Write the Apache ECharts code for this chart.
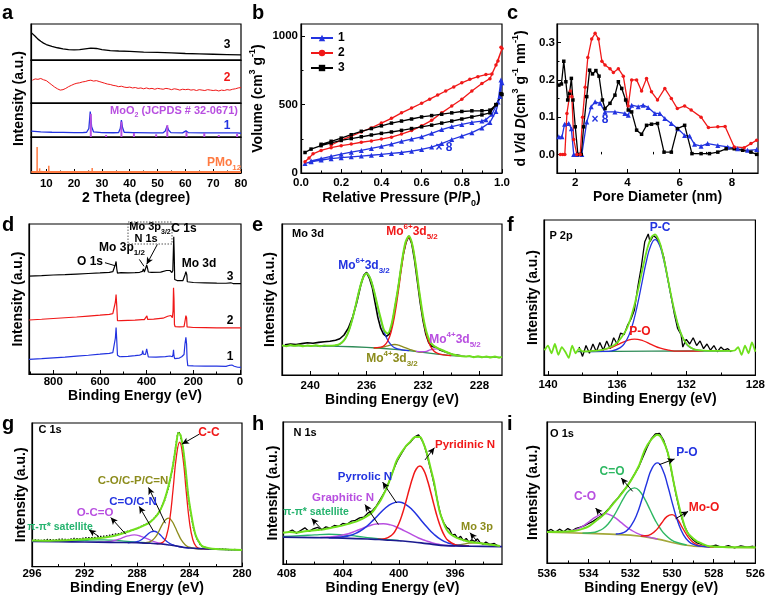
<!DOCTYPE html>
<html><head><meta charset="utf-8">
<script src="https://cdn.jsdelivr.net/npm/echarts@6/dist/echarts.min.js"></script>
<style>html,body{margin:0;padding:0;background:#fff}#c{width:768px;height:596px}</style>
</head><body><div id="c"></div>
<script>
// ================= DATA =================
// (a) XRD, intensities in % of each sub-panel height
const a_black3 = [[4.6,76],[5,74],[6,66],[7,58],[8,52],[9,47],[10,43],[12,38],[14,34],[16,31],[18,29],[20,28],[22,29],[24,31],[26,33],[28,32],[30,29],[33,26],[36,25],[40,24],[45,22],[50,21],[55,20],[60,18],[65,17],[70,16],[75,15],[80,14]];
const a_red2 = [[5,53],[6,56],[7,55],[8,57],[9,54],[10,52],[11,47],[12,42],[13,37],[14,33],[15,30],[16,31],[17,34],[18,38],[19,41],[20,44],[21,46],[22,47],[23,49],[24,50],[25,52],[26,53],[27,51],[28,52],[29,50],[30,48],[31,46],[32,44],[33,43],[34,41],[35,40],[36,38],[37,39],[38,37],[39,36],[40,37],[41,35],[42,36],[43,34],[44,35],[45,33],[46,35],[47,33],[48,34],[49,32],[50,34],[51,33],[52,32],[53,34],[54,33],[55,31],[56,33],[57,32],[58,30],[59,32],[60,31],[61,32],[62,30],[63,31],[64,29],[65,31],[66,30],[67,29],[68,31],[69,30],[70,29],[71,30],[72,28],[73,30],[74,29],[75,31],[76,30],[77,32],[78,33],[79,35],[80,36]];
const a_blue1 = [[4.6,17],[8,15],[12,14],[16,13.5],[20,13],[23,13],[24.5,14],[25.3,25],[25.8,75],[26.3,30],[27,15],[30,13],[34,12.5],[36,13],[36.6,25],[37,50],[37.4,28],[38,14],[41,13],[41.5,15],[42,13],[48,12],[52,12.5],[52.8,18],[53.4,32],[54,20],[54.8,13],[59,12],[60.2,18],[61,13],[66,12],[66.6,15],[67.3,12],[72,12],[78.5,12],[79,14],[80,11]];
const a_moo2Sticks = [[26,68],[31.5,6],[37,45],[41.5,12],[49.5,8],[53.5,35],[60.4,15],[66.8,12],[72,6],[78.6,10]];
const a_pmoBase = [[4.6,3],[80,3]];
const a_pmoSticks = [[6.7,72],[7.6,13],[8.3,6],[10.9,20],[12.2,5],[14.6,4],[16.2,3],[17.9,4],[19.6,5],[20.8,4],[22.4,4],[23.8,5],[25.4,6],[26.5,14],[27.6,5],[29.3,5],[31.1,4],[32.8,4],[35,3],[37.2,3],[39.4,3]];
// (b) isotherms (adsorption then desorption)
const b_s1 = [[0.02,70],[0.05,82],[0.1,95],[0.15,105],[0.2,112],[0.25,118],[0.3,124],[0.35,130],[0.4,136],[0.45,143],[0.5,150],[0.55,160],[0.6,172],[0.65,190],[0.7,215],[0.75,245],[0.8,270],[0.85,295],[0.9,330],[0.94,370],[0.97,450],[0.99,560],[1.0,660],[0.995,680],[0.98,520],[0.95,430],[0.92,390],[0.9,380],[0.85,370],[0.8,355],[0.75,340],[0.7,318],[0.65,290],[0.6,265],[0.55,248],[0.5,232],[0.45,212],[0.4,195],[0.35,180],[0.3,165],[0.25,152],[0.2,138],[0.15,122],[0.1,105],[0.05,88]];
const b_s2 = [[0.02,82],[0.04,110],[0.06,140],[0.1,165],[0.15,185],[0.2,200],[0.25,212],[0.3,225],[0.35,235],[0.4,248],[0.45,262],[0.5,285],[0.55,310],[0.6,345],[0.65,385],[0.7,440],[0.75,490],[0.8,540],[0.85,600],[0.9,655],[0.94,690],[0.97,790],[1.0,910],[0.995,920],[0.98,820],[0.95,725],[0.92,720],[0.88,705],[0.84,685],[0.8,660],[0.76,630],[0.72,600],[0.68,570],[0.64,540],[0.6,510],[0.55,475],[0.5,440],[0.45,400],[0.4,365],[0.35,330],[0.3,300],[0.25,270],[0.2,240],[0.15,205]];
const b_s3 = [[0.02,150],[0.05,175],[0.1,200],[0.15,220],[0.2,238],[0.25,252],[0.3,265],[0.35,278],[0.4,290],[0.45,300],[0.5,312],[0.55,325],[0.6,338],[0.65,350],[0.7,365],[0.75,380],[0.8,395],[0.85,410],[0.9,425],[0.94,440],[0.97,500],[1.0,575],[0.995,580],[0.97,500],[0.94,460],[0.9,455],[0.85,455],[0.8,450],[0.75,440],[0.7,430],[0.65,420],[0.6,410],[0.55,395],[0.5,380],[0.45,365],[0.4,345],[0.35,325],[0.3,305],[0.25,280],[0.2,255],[0.15,232],[0.1,210]];
// (c) pore size distributions
const c_s2 = [[1.43,0],[1.52,0],[1.6,0],[1.68,0.11],[1.81,0.17],[1.87,0.155],[1.94,0.04],[2.06,0],[2.19,0],[2.28,0.10],[2.38,0.18],[2.48,0.26],[2.63,0.31],[2.76,0.325],[2.89,0.31],[3.02,0.25],[3.14,0.24],[3.33,0.23],[3.46,0.22],[3.65,0.23],[3.84,0.21],[4.03,0.13],[4.16,0.2],[4.35,0.2],[4.54,0.17],[4.73,0.204],[4.92,0.168],[5.15,0.146],[5.43,0.177],[5.68,0.15],[5.91,0.123],[6.19,0.13],[6.44,0.119],[6.82,0.10],[7.1,0.072],[7.46,0.074],[7.74,0.075],[8.09,0.02],[8.47,0.018],[8.73,0.029],[8.95,0.038]];
const c_s1 = [[1.37,0.047],[1.49,0.047],[1.59,0.081],[1.75,0.083],[1.85,0.069],[1.94,0],[2.06,0],[2.25,0],[2.44,0.087],[2.61,0.128],[2.76,0.141],[2.95,0.137],[3.14,0.114],[3.52,0.114],[3.9,0.11],[4.03,0.105],[4.16,0.132],[4.41,0.128],[4.6,0.132],[4.79,0.126],[5.05,0.11],[5.24,0.11],[5.43,0.096],[5.68,0.083],[5.93,0.069],[6.19,0.051],[6.38,0.049],[6.57,0.027],[6.82,0.022],[7.07,0.029],[7.46,0.024],[7.84,0.02],[8.22,0.015],[8.6,0.011],[8.95,0.013]];
const c_s3 = [[1.37,0.186],[1.47,0.189],[1.56,0.25],[1.64,0.195],[1.71,0.146],[1.78,0.164],[1.85,0.204],[1.91,0.146],[2.0,0.074],[2.1,0],[2.23,0],[2.32,0.074],[2.44,0.155],[2.55,0.226],[2.66,0.216],[2.79,0.225],[2.91,0.21],[3.04,0.146],[3.14,0.123],[3.33,0.137],[3.52,0.159],[3.65,0.195],[3.78,0.177],[3.93,0.146],[4.03,0.119],[4.16,0.114],[4.35,0.065],[4.54,0.054],[4.73,0.078],[4.92,0.081],[5.15,0.083],[5.4,0.006],[5.68,0.006],[5.91,0.069],[6.19,0.078],[6.47,0.002],[6.82,0.002],[7.14,0.002],[7.46,0.006],[7.78,0.015],[8.09,0.015],[8.41,0.011],[8.73,0.006],[8.95,0.0]];
// (d) survey spectra (% of panel height)
const d_s3 = [[904,65.3],[850,65.6],[800,66],[750,66.2],[700,66.6],[650,67],[600,67.4],[560,67.8],[545,68.2],[537,69],[534,73],[531,75],[528,70],[525,67.3],[510,67.6],[480,67.4],[450,67.6],[430,67.8],[418,68.4],[414,70],[410,68],[404,68.5],[400,72.5],[397,71],[393,68],[380,67.7],[340,67.9],[315,69],[300,69],[292,67.6],[288,69],[286,80],[284,91.5],[282,80],[280,63],[270,62.3],[245,62.2],[236,66],[232,68.2],[228,66],[226,61.5],[200,61],[150,60.8],[100,60.6],[60,60.5],[40,60.8],[30,60.3],[-4,60.2]];
const d_s2 = [[904,36],[850,36.5],[800,37],[750,37.5],[700,38],[650,38.6],[600,39.2],[560,39.8],[545,40.3],[538,41.5],[534,48],[531,53],[528,45],[525,35.5],[510,35.6],[480,35.8],[450,35.9],[420,36.2],[414,37],[410,36.2],[402,36.5],[399,38.8],[396,36.4],[370,36.6],[330,37.2],[310,38.5],[296,39],[290,37.5],[287,42],[285,57.5],[283,50],[281,33],[278,31.5],[260,31.4],[240,31.6],[235,36],[232,38.9],[229,37.5],[227,31.4],[200,31],[150,30.9],[100,30.8],[50,30.8],[-4,30.7]];
const d_s1 = [[904,9.8],[850,10.2],[800,10.8],[750,11.3],[700,11.9],[650,12.5],[600,13.2],[560,13.8],[545,14.2],[538,15],[534,24],[531,31],[528,22],[525,12.5],[515,11.5],[510,12.8],[506,11.6],[480,11.8],[450,12.2],[430,12.6],[420,13.2],[417,15.6],[414,13.2],[405,13],[400,16.8],[397,14.5],[393,11.4],[360,11.2],[320,11.6],[300,12],[290,11.5],[287,13],[285,16.2],[283,12],[280,10.2],[260,10.6],[250,11.5],[245,11],[240,13],[236,20],[232,24.5],[229,20],[227,10],[224,5.6],[200,5.4],[150,5.2],[100,5.2],[60,5.1],[45,5.8],[40,7],[35,6],[25,5.2],[10,4.5],[-4,4.4]];
// (e) Mo 3d
const e_exp = [[241.8,20],[241.4,20.5],[241,20.2],[240.6,20.8],[240.2,21.4],[239.8,21],[239.4,21.6],[239,22],[238.6,22.3],[238.2,23],[237.9,24],[237.6,26.5],[237.3,31],[237,38],[236.7,48],[236.4,60],[236.2,66],[236,68],[235.8,64],[235.6,58],[235.4,48],[235.2,38],[235,31],[234.8,27],[234.6,25.5],[234.4,27],[234.2,33],[234,44],[233.8,55],[233.6,68],[233.4,80],[233.2,88],[233,92],[232.8,87],[232.6,76],[232.4,62],[232.2,48],[232,36],[231.8,27],[231.6,21.5],[231.4,19],[231.2,18.5],[231,18],[230.8,16.5],[230.5,15.5],[230.2,14.5],[229.9,13.5],[229.6,13.2],[229.3,12.8]];
const e_bg = [[242,19.5],[240,19.3],[238,19.0],[237,18.7],[236,18.3],[235,17.7],[234,17.0],[233,16.2],[232,15.0],[231,13.8],[230,12.8],[229,12.3],[228,12.0],[226.4,11.7]];
const e_mo6_32 = [[239.5,19.2],[238.5,19.0],[238,20.0],[237.75,21.5],[237.5,24.4],[237.25,29.6],[237,37.4],[236.75,47.1],[236.5,57],[236.25,64.4],[236,67.3],[235.75,64.2],[235.5,56.5],[235.25,46.4],[235,36.4],[234.75,28.4],[234.5,23],[234.25,19.8],[234,18],[233.5,16.7],[233,16.2]];
const e_mo6_52 = [[235.5,18.0],[235,18.4],[234.75,19.5],[234.5,22.5],[234.25,29],[234,40],[233.75,55.3],[233.5,72.4],[233.25,86.1],[233,91.2],[232.75,85.6],[232.5,71.4],[232.25,53.8],[232,38],[231.75,26.5],[231.5,19.6],[231.25,16.1],[231,14.5],[230.5,13.3],[230,12.8]];
const e_mo4_32 = [[235.5,17.8],[235,18.2],[234.5,19.3],[234.25,19.9],[234,20.2],[233.75,19.8],[233.5,18.9],[233,17.2],[232.5,15.7],[232,15.0]];
const e_mo4_52 = [[232.5,15.6],[232,15.4],[231.75,15.7],[231.5,16.6],[231.25,17.1],[231,17.3],[230.75,16.9],[230.5,15.9],[230.25,14.6],[230,13.7],[229.5,12.6],[229,12.3]];
const e_env = [[242,19.6],[241.7,19.1],[241.4,19.8],[241.1,19.3],[240.8,19.7],[240.5,19.0],[240.2,19.6],[239.9,19.2],[239.6,19.7],[239.3,19.1],[239,19.5],[238.7,19.3],[238.5,19.4],[238.25,19.6],[238,20.1],[237.75,21.5],[237.5,24.4],[237.25,29.6],[237,37.4],[236.75,47.1],[236.5,57],[236.25,64.4],[236,67.3],[235.75,64.2],[235.5,56.6],[235.25,46.9],[235,37.6],[234.75,29.5],[234.5,27.5],[234.25,33],[234,45],[233.75,58.8],[233.5,74.9],[233.25,87.7],[233,92.1],[232.75,86],[232.5,71.9],[232.25,54.4],[232,39.1],[231.75,28.3],[231.5,22.2],[231.25,19.3],[231,18],[230.75,16.9],[230.5,15.9],[230,13.9],[229.5,12.8],[229,12.3],[228.7,12.6],[228.4,11.8],[228.1,12.4],[227.8,11.7],[227.5,12.3],[227.2,11.6],[226.9,12.2],[226.6,11.5],[226.4,12.0]];
// (f) P 2p
const f_exp = [[138.2,18],[138.0,12],[137.8,19],[137.6,14],[137.4,20],[137.2,15],[137.0,21],[136.8,16],[136.6,22],[136.4,17],[136.2,24],[136.0,20],[135.8,27],[135.6,26],[135.4,32],[135.2,36],[135.0,42],[134.8,57],[134.6,70],[134.4,86],[134.2,91],[134.1,86],[134.0,88],[133.9,90],[133.7,88],[133.5,84],[133.3,76],[133.1,64],[132.9,52],[132.7,40],[132.5,30],[132.3,26],[132.2,18],[132.0,23],[131.8,20],[131.6,24],[131.4,19],[131.2,22],[131.0,17],[130.8,20],[130.6,16],[130.4,19],[130.2,15],[130.0,18],[129.8,16],[129.6,17],[129.4,15]];
const f_bg = [[138.3,15.1],[136,15.2],[134,15.35],[132,15.5],[130,15.6],[129.3,15.7]];
const f_pc = [[137.5,15.1],[136.8,15.2],[136.3,15.6],[135.8,17.8],[135.55,20.8],[135.3,26.2],[135.05,34.8],[134.8,46.5],[134.55,60.3],[134.3,73.7],[134.05,83.6],[133.8,87.4],[133.55,83.8],[133.3,73.9],[133.05,60.5],[132.8,46.8],[132.55,35.1],[132.3,26.5],[132.05,21],[131.8,18],[131.3,15.9],[130.8,15.6],[129.4,15.7]];
const f_po = [[137.5,15.3],[137,15.8],[136.5,17.1],[136,19.4],[135.5,21.9],[135,23.2],[134.5,22.1],[134,19.6],[133.5,17.3],[133,16],[132.5,15.4],[132,15.4],[131,15.6]];
const f_env = [[140.2,16],[140.0,19],[139.8,14],[139.6,20],[139.4,13],[139.2,18],[139.0,15],[138.8,11],[138.6,19],[138.4,14],[138.2,17],[138.0,15.2],[137.5,15.5],[137,15.9],[136.5,17.4],[136,20.8],[135.5,28.6],[135.25,35.5],[135,45],[134.75,56.9],[134.5,70],[134.25,81.8],[134,89.2],[133.8,90.7],[133.5,84.2],[133.25,72.6],[133,58.3],[132.75,44.6],[132.5,33.3],[132.25,25.2],[132,20.3],[131.75,17.7],[131.5,16.4],[131,15.7],[130.5,15.6],[130,15.6],[129.5,15.6],[129.2,15.8],[129.0,18],[128.8,13],[128.6,19],[128.4,14],[128.2,21],[128.0,15]];
// (g) C 1s
const g_exp = [[295.8,18.6],[295.3,18.2],[294.8,18.9],[294.3,18.4],[293.8,19.2],[293.3,18.8],[292.8,19.6],[292.3,19.3],[291.8,20.2],[291.3,20.1],[290.8,21.0],[290.3,21.4],[289.8,22.4],[289.3,23],[288.8,24.4],[288.3,25.6],[287.8,27.5],[287.3,29.6],[286.8,32.5],[286.3,38],[285.9,46],[285.6,55],[285.3,68],[285.1,80],[284.95,90],[284.85,94],[284.7,92],[284.5,82],[284.3,66],[284.1,49],[283.9,37],[283.7,27],[283.5,20.5],[283.2,15.5],[283,13.8],[282.5,12.6],[282,12.1],[281.5,12.3],[281,11.7],[280.5,11.9]];
const g_bg = [[296,17.5],[294,17.3],[292,17.1],[290,16.9],[288,16.6],[287,16.3],[286,15.6],[285.5,15],[285,14.3],[284.5,13.5],[284,12.9],[283,12.4],[282,12.1],[280,11.6]];
const g_cc = [[286.5,15.8],[286,17.1],[285.75,21.5],[285.5,33.1],[285.25,53.9],[285,76.6],[284.75,86.6],[284.5,75.8],[284.25,52.4],[284,31],[283.75,18.9],[283.5,14.1],[283.25,12.7],[283,12.4],[282.5,12.2]];
const g_co = [[287.6,16.4],[287.1,17.0],[286.85,18.2],[286.6,20.5],[286.35,24.3],[286.1,28.9],[285.85,32.4],[285.6,33.7],[285.35,31.8],[285.1,27.6],[284.85,22.6],[284.6,18.2],[284.35,15.4],[284.1,13.8],[283.6,12.6],[283,12.4]];
const g_cn = [[288.7,16.6],[288.2,17],[287.95,17.5],[287.7,18.5],[287.45,20.3],[287.2,22.4],[286.95,24.1],[286.7,24.6],[286.45,23.8],[286.2,21.8],[285.95,19.4],[285.7,17.3],[285.45,15.9],[285.2,15],[284.7,13.8],[284,12.9]];
const g_oco = [[291,16.9],[290.7,17],[290.2,17.35],[289.7,18.2],[289.2,19.7],[288.7,21.35],[288.2,22.1],[287.7,21.1],[287.2,19.3],[286.7,17.4],[286.2,16.2],[285.7,15.3]];
const g_sat = [[295.5,17.5],[294,17.6],[293,17.9],[292,18.3],[291,18.6],[290.5,18.6],[290,18.4],[289,17.8],[288,17.1],[287,16.5]];
const g_env = [[296,18.1],[295,18.0],[294,18.2],[293,18.5],[292,19.0],[291,19.8],[290,21],[289.5,22],[289,23.3],[288.5,25],[288,26.5],[287.5,28.5],[287,31],[286.5,35.5],[286.25,39],[286,44],[285.75,51],[285.5,60],[285.25,71],[285,86],[284.85,93],[284.7,92],[284.5,83],[284.3,68],[284.1,50],[283.9,38],[283.7,28],[283.5,21],[283.2,16],[283,14],[282.5,12.8],[282,12.3],[281,11.9],[280,11.6]];
// (h) N 1s
const h_exp = [[407.9,22.5],[407.6,24],[407.3,21.8],[407,23.6],[406.7,25.5],[406.4,23],[406.1,24.8],[405.8,25.8],[405.5,24.2],[405.2,26.2],[404.9,25.4],[404.6,27.2],[404.3,26.5],[404,28.6],[403.7,28],[403.4,30.2],[403.1,30.8],[402.8,32.5],[402.5,33],[402.2,36],[401.9,37.5],[401.6,41],[401.3,46],[401.0,51],[400.7,58],[400.4,66],[400.1,73],[399.8,78],[399.5,83],[399.2,85.5],[399.0,88],[398.8,90],[398.6,91],[398.4,88],[398.2,84],[398.0,77],[397.8,69],[397.6,61],[397.4,52],[397.2,42],[397.0,34],[396.8,29],[396.6,26],[396.4,24.5],[396.2,20.5],[396.0,21],[395.8,18],[395.6,19.5],[395.4,16.5],[395.2,18],[395.0,15.5],[394.8,17.2],[394.6,15.8],[394.4,17.8],[394.2,15],[394.0,14],[393.8,15.5],[393.5,13.8],[393.2,14.5],[392.9,12.6]];
const h_bg = [[408.26,19],[406,18.6],[404,18.3],[402,17.6],[401,17],[400,16.4],[399,15.6],[398,14.4],[397,13.2],[396,12.8],[394,12.5],[392.65,12.3]];
const h_pyridinic = [[401.5,17.4],[401,17.9],[400.5,20.5],[400.25,23.6],[400,28.6],[399.75,35.4],[399.5,43.9],[399.25,53],[399,61.3],[398.75,67.1],[398.5,69],[398.25,66.5],[398,60.1],[397.75,51.3],[397.5,41.7],[397.25,32.7],[397,25.4],[396.75,20.1],[396.5,16.7],[396,13.7],[395.5,12.8],[395,12.7]];
const h_pyrrolic = [[405,18.6],[404.5,18.8],[404,19.2],[403.5,20.1],[403,22],[402.5,25],[402,29.3],[401.5,34.2],[401,39.1],[400.5,42.6],[400,43.7],[399.5,41.9],[399,37.7],[398.5,31.9],[398,26.1],[397.5,21],[397,17.2],[396.5,14.9],[396,13.7],[395.5,13.1],[395,12.7]];
const h_graphitic = [[405.6,18.7],[405.1,19],[404.6,19.4],[404.1,20.3],[403.6,21.4],[403.1,23.2],[402.6,25.1],[402.1,27],[401.6,28.2],[401.1,28.4],[400.6,27.6],[400.1,25.8],[399.6,23.4],[399.1,20.9],[398.6,18.4],[398.1,16.5],[397.6,14.9],[397.1,13.8],[396.6,13.1],[396,12.8]];
const h_sat = [[408.26,19.5],[407,20],[406,20.6],[405,21],[404,20.6],[403,19.6],[402,18.4],[401,17.4],[400,16.6]];
const h_mo3p = [[396,13.2],[395.5,13.9],[395,14.7],[394.5,15],[394,14.6],[393.5,13.6],[393,12.8]];
const h_env = [[408.26,22],[407.8,22.6],[407.3,22.2],[406.8,23],[406.3,23.4],[405.8,24],[405.3,24.6],[404.8,25.6],[404.3,26.6],[403.8,27.8],[403.3,29.2],[402.8,31],[402.3,33.6],[401.9,36.5],[401.6,40.5],[401.3,45],[401.1,48.8],[400.85,54],[400.6,60.5],[400.4,66],[400.2,72],[399.95,76.5],[399.7,80.2],[399.45,83.5],[399.2,86],[398.85,89.5],[398.5,89.5],[398.25,85],[398,78],[397.75,68],[397.5,58],[397.3,47],[397.1,37.2],[396.85,30],[396.6,24.4],[396.3,21],[395.9,18.6],[395.5,17.2],[395.2,16.3],[394.6,15.2],[394,14.4],[393.4,13.6],[392.8,12.8]];
// (i) O 1s
const i_exp = [[536,22.5],[535.8,23.8],[535.6,21.8],[535.4,24],[535.2,22.2],[535,24.4],[534.8,22.8],[534.6,24.6],[534.4,25.4],[534.2,26.5],[534,28],[533.8,29.5],[533.6,31.5],[533.4,33.5],[533.2,36],[533,39],[532.8,43],[532.6,46],[532.4,50],[532.2,53.5],[532,58],[531.8,63],[531.6,68],[531.4,75],[531.2,82],[531,88],[530.8,91.5],[530.6,92],[530.4,87],[530.2,78],[530,63],[529.8,48],[529.6,35],[529.4,26],[529.2,20],[529,16.5],[528.8,14.2],[528.5,12.8],[528.2,11.5],[527.9,12.6],[527.6,11],[527.3,12.4],[527,10.8],[526.7,12.2],[526.4,11.2],[526.1,12]];
const i_bg = [[536,21.8],[535,21.5],[534,21],[533,20.5],[532,19.8],[531.5,19],[531,17.8],[530.5,16.4],[530,14.6],[529.5,13],[529,12],[528,11.3],[527,11],[526,10.9]];
const i_po = [[532.7,20.6],[532.45,21],[532.2,22.6],[531.95,26.8],[531.7,34],[531.45,44.9],[531.2,57.3],[530.95,67.5],[530.7,71],[530.45,66.1],[530.2,54.4],[529.95,40.5],[529.7,28.3],[529.45,20],[529.2,15.3],[528.95,13],[528.7,12],[528.2,11.4]];
const i_moo = [[531.5,19.2],[531.25,19.3],[531,20.5],[530.75,23.5],[530.5,28.4],[530.25,32.9],[530,34.3],[529.75,31.2],[529.5,25],[529.25,18.9],[529,14.7],[528.75,12.7],[528.5,11.8],[528,11.3]];
const i_ceo = [[534.3,21.2],[533.8,21.6],[533.55,22.6],[533.3,24.5],[533.05,28],[532.8,33.2],[532.55,39.8],[532.3,46.6],[532.05,51.6],[531.8,53.3],[531.55,50.9],[531.3,45.1],[531.05,37.6],[530.8,30.1],[530.55,24.1],[530.3,19.6],[530.05,16.6],[529.8,14.7],[529.3,12.8]];
const i_co = [[535.2,22],[534.95,22.4],[534.7,23.2],[534.45,24.8],[534.2,26.9],[533.95,29.6],[533.7,32.3],[533.45,34.3],[533.2,35],[532.95,34],[532.7,31.8],[532.45,28.8],[532.2,25.8],[531.95,23.3],[531.7,21.2],[531.45,19.8],[531.2,18.7],[530.7,17]];
const i_env = [[536,22],[535.5,22.1],[535,22.4],[534.65,22.8],[534.3,24.2],[534,26],[533.6,30.5],[533.2,35.5],[532.8,42.5],[532.4,49.6],[532.0,57.9],[531.6,68.6],[531.3,80.4],[531.0,87.5],[530.7,91],[530.5,88.7],[530.2,78],[529.9,55.6],[529.6,36.6],[529.3,22.5],[529.0,17.5],[528.8,15.4],[528.2,11.8],[527,11.2],[526,11.1]];
// tick values
const ticksA = [10,20,30,40,50,60,70,80], minorA = [15,25,35,45,55,65,75];
const ticksBx = [0,0.2,0.4,0.6,0.8,1.0], minorBx = [0.1,0.3,0.5,0.7,0.9];
const ticksBy = [0,500,1000], minorBy = [250,750];
const ticksCx = [2,4,6,8], minorCx = [3,5,7];
const ticksCy = [0,0.1,0.2,0.3], minorCy = [0.05,0.15,0.25];
const ticksD = [0,200,400,600,800], minorD = [100,300,500,700,900];
const ticksE = [228,232,236,240], minorE = [230,234,238];
const ticksF = [128,132,136,140], minorF = [130,134,138];
const ticksG = [280,284,288,292,296], minorG = [282,286,290,294];
const ticksH = [396,400,404,408], minorH = [394,398,402,406];
const ticksI = [526,528,530,532,534,536], minorI = [527,529,531,533,535];

// ================= STYLE / LAYOUT =================
const FONT = '"Liberation Sans", Arial, Helvetica, sans-serif';
const C = {blue:'#2233e0', red:'#f01818', black:'#000', lime:'#6fe01c', dkgreen:'#2e8b57', olive:'#8c8c1c',
  magenta:'#b84fe0', navy:'#1b1b8f', teal:'#25b36e', orange:'#ff7b42', ceo:'#2fb863', ibg:'#a3a83a'};
const BOX = {a3:[31,24,241,60], a2:[31,60,241,103], a1:[31,103,241,137], a4:[31,137,241,173],
  b:[301,24,502,173], c:[557,24,758,173], d:[29,224,241,374], e:[282,224,502,375], f:[544,220,757,375],
  g:[32,423,242,567], h:[283,422,502,565], i:[547,422,757,563]};

function RICH(size, color){
  const sm = Math.round(size*0.65);
  const base = {fontFamily:FONT, fontWeight:'bold', fill:color, color:color};
  return {
    m:Object.assign({}, base, {fontSize:size, lineHeight:size+6, verticalAlign:'middle'}),
    i:Object.assign({}, base, {fontSize:size, fontStyle:'italic', lineHeight:size+6, verticalAlign:'middle'}),
    sup:Object.assign({}, base, {fontSize:sm, lineHeight:sm+2, verticalAlign:'top'}),
    sub:Object.assign({}, base, {fontSize:sm, lineHeight:sm+2, verticalAlign:'bottom'})
  };
}
const grids=[], xAxes=[], yAxes=[], series=[], graphics=[];
function axisDef(gi, a, dim){
  const o = {gridIndex:gi, type:'value', min:a.min, max:a.max, inverse:!!a.inverse, position:dim==='x'?'bottom':'left',
    axisLine:{show:true, onZero:false, lineStyle:{color:'#000', width:1.2}},
    axisTick:{show:!!a.ticks, inside:true, length:4, lineStyle:{color:'#000', width:1}},
    axisLabel:{show:!!a.ticks, margin:(a.margin!=null?a.margin:4), color:'#000', fontFamily:FONT, fontWeight:'bold', fontSize:11.5,
      formatter:a.fmt||(v=>String(Math.round(v)))},
    splitLine:{show:false}, minorTick:{show:false}, minorSplitLine:{show:false}};
  if (a.ticks){ o.axisTick.customValues=a.ticks; o.axisLabel.customValues=a.ticks; }
  if (a.name){ o.name=a.name; o.nameLocation='middle'; o.nameGap=a.gap;
    o.nameTextStyle={color:'#000', fontFamily:FONT, fontWeight:'bold', fontSize:14, rich:RICH(14,'#000')}; }
  return o;
}
function minorDef(gi, a, dim){
  return {gridIndex:gi, type:'value', min:a.min, max:a.max, inverse:!!a.inverse, position:dim==='x'?'bottom':'left',
    axisLine:{show:false}, axisLabel:{show:false}, splitLine:{show:false},
    axisTick:{show:true, inside:true, length:2.5, customValues:a.minor, lineStyle:{color:'#000', width:1}}};
}
function panel(box, xa, ya){
  const gi = grids.length;
  grids.push({left:box[0], top:box[1], width:box[2]-box[0], height:box[3]-box[1], show:true, borderColor:'#000', borderWidth:1.2, containLabel:false});
  const x = xAxes.length; xAxes.push(axisDef(gi, xa, 'x')); if (xa.minor) xAxes.push(minorDef(gi, xa, 'x'));
  const y = yAxes.length; yAxes.push(axisDef(gi, ya, 'y')); if (ya.minor) yAxes.push(minorDef(gi, ya, 'y'));
  return {x, y};
}
function ln(p, data, color, w, extra){
  const s = {type:'line', xAxisIndex:p.x, yAxisIndex:p.y, data:data, symbol:'none', showSymbol:false,
    lineStyle:{color:color, width:w||1.3}, itemStyle:{color:color}, silent:true, z:2};
  series.push(Object.assign(s, extra||{}));
  return series[series.length-1];
}
function sticks(p, data, color, w){
  series.push({type:'bar', xAxisIndex:p.x, yAxisIndex:p.y, data:data, barWidth:w, itemStyle:{color:color}, silent:true, z:3});
}
function T(x, y, text, color, size, align, rot){
  graphics.push({type:'text', x:x, y:y, rotation:rot||0, z:100, silent:true,
    style:{text:text, fill:color, fontSize:size, fontFamily:FONT, fontWeight:'bold',
      textAlign:align||'center', align:align||'center', textVerticalAlign:'middle', verticalAlign:'middle', rich:RICH(size, color)}});
}
function arrows(list){
  return {silent:true, animation:false, symbolSize:[5,7], lineStyle:{color:'#000', width:1, type:'solid'}, label:{show:false},
    data:list.map(l => [{coord:l[0], symbol:'none'}, {coord:l[1], symbol:l[2]==='none'?'none':'arrow'}])};
}
const f1 = v => v.toFixed(1);
const XPS_Y = {min:0, max:100};

// ---- panel a
const xa = {min:4.5, max:80};
const pa3 = panel(BOX.a3, xa, XPS_Y);
const pa2 = panel(BOX.a2, xa, XPS_Y);
const pa1 = panel(BOX.a1, xa, XPS_Y);
const pa4 = panel(BOX.a4, {min:4.5, max:80, ticks:ticksA, minor:minorA, margin:5, name:'2 Theta (degree)', gap:16}, XPS_Y);
ln(pa3, a_black3, C.black, 1.3);
ln(pa2, a_red2, C.red, 1);
ln(pa1, a_blue1, C.blue, 1.3);
sticks(pa1, a_moo2Sticks, C.magenta, 2);
ln(pa4, a_pmoBase, C.orange, 2);
sticks(pa4, a_pmoSticks, C.orange, 1.5);

// ---- panel b
const pb = panel(BOX.b,
  {min:0, max:1, ticks:ticksBx, minor:minorBx, fmt:f1, margin:4, name:'{m|Relative Pressure (P/P}{sub|0}{m|)}', gap:15},
  {min:0, max:1090, ticks:ticksBy, minor:minorBy, margin:3, name:'{m|Volume (cm}{sup|3}{m| g}{sup|-1}{m|)}', gap:33});
ln(pb, b_s1, C.blue, 1.3, {name:'1', symbol:'triangle', showSymbol:true, symbolSize:5});
ln(pb, b_s2, C.red, 1.3, {name:'2', symbol:'circle', showSymbol:true, symbolSize:3.5});
ln(pb, b_s3, C.black, 1.3, {name:'3', symbol:'rect', showSymbol:true, symbolSize:3.5});

// ---- panel c
const pc = panel(BOX.c,
  {min:1.3, max:9, ticks:ticksCx, minor:minorCx, margin:4, name:'Pore Diameter (nm)', gap:15},
  {min:-0.05, max:0.35, ticks:ticksCy, minor:minorCy, fmt:f1, margin:2,
   name:'{m|d }{i|V}{m|/d }{i|D}{m|(cm}{sup|3}{m| g}{sup|-1}{m| nm}{sup|-1}{m|)}', gap:26});
ln(pc, c_s1, C.blue, 1.3, {symbol:'triangle', showSymbol:true, symbolSize:5});
ln(pc, c_s3, C.black, 1.3, {symbol:'rect', showSymbol:true, symbolSize:3.5});
ln(pc, c_s2, C.red, 1.3, {symbol:'circle', showSymbol:true, symbolSize:3.5});

// ---- panel d
const pd = panel(BOX.d, {min:-4, max:904, inverse:true, ticks:ticksD, minor:minorD, margin:2, name:'Binding Energy (eV)', gap:14},
  {min:0, max:100, name:'Intensity (a.u.)', gap:3.5});
ln(pd, d_s1, C.blue, 1.2);
ln(pd, d_s2, C.red, 1.2);
ln(pd, d_s3, C.black, 1.2, {markLine:arrows([[[578.6,74.2],[535.7,72.2],'none'],[[431.4,76.4],[411.4,71.8],'none'],[[354.3,86.4],[400,73.1],'end']])});

// ---- panel e
const pe = panel(BOX.e, {min:226.4, max:242, inverse:true, ticks:ticksE, minor:minorE, margin:5, name:'Binding Energy (eV)', gap:15},
  {min:0, max:100, name:'Intensity (a.u.)', gap:4.5});
ln(pe, e_exp, C.black, 1.6);
ln(pe, e_bg, C.dkgreen, 1.3);
ln(pe, e_mo4_32, C.olive, 1.3, {smooth:true});
ln(pe, e_mo4_52, C.magenta, 1.3, {smooth:true});
ln(pe, e_mo6_32, C.blue, 1.3, {smooth:true});
ln(pe, e_mo6_52, C.red, 1.3, {smooth:true});
ln(pe, e_env, C.lime, 2, {smooth:0.3});

// ---- panel f
const pf = panel(BOX.f, {min:128, max:140.23, inverse:true, ticks:ticksF, minor:minorF, margin:4, name:'Binding Energy (eV)', gap:14},
  {min:0, max:100, name:'Intensity (a.u.)', gap:3.5});
ln(pf, f_exp, C.black, 1.3);
ln(pf, f_bg, C.dkgreen, 1.3);
ln(pf, f_po, C.red, 1.3, {smooth:true});
ln(pf, f_pc, C.blue, 1.3, {smooth:true});
ln(pf, f_env, C.lime, 1.8, {smooth:0.2});

// ---- panel g
const pg = panel(BOX.g, {min:280, max:296, inverse:true, ticks:ticksG, minor:minorG, margin:1.5, name:'Binding Energy (eV)', gap:12},
  {min:0, max:100, name:'Intensity (a.u.)', gap:4});
ln(pg, g_exp, C.black, 1.4, {lineStyle:{color:C.black, width:1.4, type:[1.5,1.5]}});
ln(pg, g_sat, C.teal, 1.3, {smooth:true});
ln(pg, g_oco, C.magenta, 1.3, {smooth:true});
ln(pg, g_cn, C.blue, 1.3, {smooth:true});
ln(pg, g_co, C.olive, 1.3, {smooth:true});
ln(pg, g_cc, C.red, 1.3, {smooth:true});
ln(pg, g_bg, C.navy, 1.6, {smooth:true, markLine:arrows([
  [[283.24,92.3],[284.57,85.3],'end'],
  [[285.84,30.2],[287.12,55.1],'end'],
  [[286.76,24.9],[287.83,41.9],'end'],
  [[288.86,22.6],[290.0,34.2],'end'],
  [[290.9,20.9],[291.66,25.6],'end']])});
ln(pg, g_env, C.lime, 2, {smooth:0.3});

// ---- panel h
const ph = panel(BOX.h, {min:392.65, max:408.26, inverse:true, ticks:ticksH, minor:minorH, margin:4, name:'Binding Energy (eV)', gap:12.5},
  {min:0, max:100, name:'Intensity (a.u.)', gap:3});
ln(ph, h_exp, C.black, 1.3);
ln(ph, h_sat, C.teal, 1.3, {smooth:true});
ln(ph, h_mo3p, C.olive, 1.3, {smooth:true});
ln(ph, h_graphitic, C.magenta, 1.5, {smooth:true});
ln(ph, h_pyrrolic, C.blue, 1.5, {smooth:true});
ln(ph, h_pyridinic, C.red, 1.5, {smooth:true});
ln(ph, h_bg, C.navy, 1.6, {smooth:true, markLine:arrows([
  [[398.14,73.3],[397.47,81.9],'end'],
  [[400.16,43.0],[401.16,57.7],'end'],
  [[401.46,27.9],[402.42,41.9],'end'],
  [[405.5,24.4],[406.22,32.1],'end'],
  [[394.41,15.8],[394.93,22.1],'end']])});
ln(ph, h_env, C.lime, 2, {smooth:0.3});

// ---- panel i
const pi = panel(BOX.i, {min:526, max:536, inverse:true, ticks:ticksI, minor:minorI, margin:5, name:'Binding Energy (eV)', gap:17},
  {min:0, max:100, name:'Intensity (a.u.)', gap:7});
ln(pi, i_exp, C.black, 1.3);
ln(pi, i_bg, C.ibg, 1.6);
ln(pi, i_co, C.magenta, 1.4, {smooth:true});
ln(pi, i_ceo, C.ceo, 1.4, {smooth:true});
ln(pi, i_moo, C.red, 1.4, {smooth:true});
ln(pi, i_po, C.blue, 1.4, {smooth:true, markLine:arrows([
  [[530.62,69.7],[529.88,73.8],'end'],
  [[531.89,50.8],[532.44,60.3],'end'],
  [[533.36,33.8],[533.67,39],'end'],
  [[529.83,31.4],[529.23,36.6],'end']])});
ln(pi, i_env, C.lime, 2, {smooth:0.3});

// ---- annotations
['a','d','g'].forEach((l,k)=>T(2, [13,225,424][k], l, '#000', 20, 'left'));
['b','e','h'].forEach((l,k)=>T(252, [13,225,424][k], l, '#000', 20, 'left'));
['c','f','i'].forEach((l,k)=>T(507, [13,225,424][k], l, '#000', 20, 'left'));
T(19, 98.5, 'Intensity (a.u.)', '#000', 14, 'center', Math.PI/2);
T(227, 45, '3', C.black, 12); T(227, 78, '2', C.red, 12); T(227, 126, '1', C.blue, 12);
T(174, 110.5, '{m|MoO}{sub|2}{m| (JCPDS # 32-0671)}', C.magenta, 11);
T(224, 163, '{m|PMo}{sub|12}', C.orange, 12);
T(444, 148, '× 8', C.blue, 12);
T(600, 120, '× 8', C.blue, 12);
// d
T(90, 261.5, 'O 1s', '#000', 12);
T(122, 248, '{m|Mo 3p}{sub|1/2}', '#000', 12);
T(150, 227, '{m|Mo 3p}{sub|3/2}', '#000', 11);
T(146, 239, 'N 1s', '#000', 11);
graphics.push({type:'rect', shape:{x:128, y:222, width:44, height:22}, style:{fill:'none', stroke:'#555', lineWidth:1, lineDash:[1.5,1.5]}, z:100, silent:true});
T(184, 228.5, 'C 1s', '#000', 12);
T(199, 264, 'Mo 3d', '#000', 12);
T(230, 276.5, '3', '#000', 12); T(230, 321, '2', '#000', 12); T(230, 357, '1', '#000', 12);
// e
T(308, 234, 'Mo 3d', '#000', 11);
T(412, 232, '{m|Mo}{sup|6+}{m|3d}{sub|5/2}', C.red, 12);
T(364, 266, '{m|Mo}{sup|6+}{m|3d}{sub|3/2}', C.blue, 12);
T(455, 340, '{m|Mo}{sup|4+}{m|3d}{sub|5/2}', C.magenta, 12);
T(392, 359, '{m|Mo}{sup|4+}{m|3d}{sub|3/2}', C.olive, 12);
// f
T(561, 235.5, 'P 2p', '#000', 11);
T(660, 228, 'P-C', C.blue, 12);
T(640, 331.5, 'P-O', C.red, 12);
// g
T(50, 430, 'C 1s', '#000', 11);
T(209, 433, 'C-C', C.red, 12);
T(133, 481, 'C-O/C-P/C=N', C.olive, 11.5);
T(133, 501.5, 'C=O/C-N', C.blue, 11.5);
T(95, 513, 'O-C=O', C.magenta, 11.5);
T(60, 527.5, 'π-π* satellite', C.teal, 10.5);
// h
T(305, 433, 'N 1s', '#000', 11);
T(465, 445, 'Pyridinic N', C.red, 11.5);
T(365, 476.5, 'Pyrrolic N', C.blue, 11.5);
T(343, 498, 'Graphitic N', C.magenta, 11.5);
T(316, 512, 'π-π* satellite', C.teal, 10.5);
T(477, 526.5, 'Mo 3p', C.olive, 11);
// i
T(562, 434, 'O 1s', '#000', 11);
T(687, 453, 'P-O', C.blue, 12);
T(612, 471.5, 'C=O', C.ceo, 12);
T(585, 496.5, 'C-O', C.magenta, 12);
T(704, 508, 'Mo-O', C.red, 12);

const chart = echarts.init(document.getElementById('c'), null, {renderer:'canvas'});
chart.setOption({
  animation:false, backgroundColor:'#fff',
  textStyle:{fontFamily:FONT},
  grid:grids, xAxis:xAxes, yAxis:yAxes, series:series, graphic:graphics,
  legend:{data:['1','2','3'], left:305, top:26, orient:'vertical', itemGap:1, itemWidth:22, itemHeight:8,
    textStyle:{fontFamily:FONT, fontWeight:'bold', fontSize:12, color:'#000', lineHeight:14}, selectedMode:false}
});
</script></body></html>
